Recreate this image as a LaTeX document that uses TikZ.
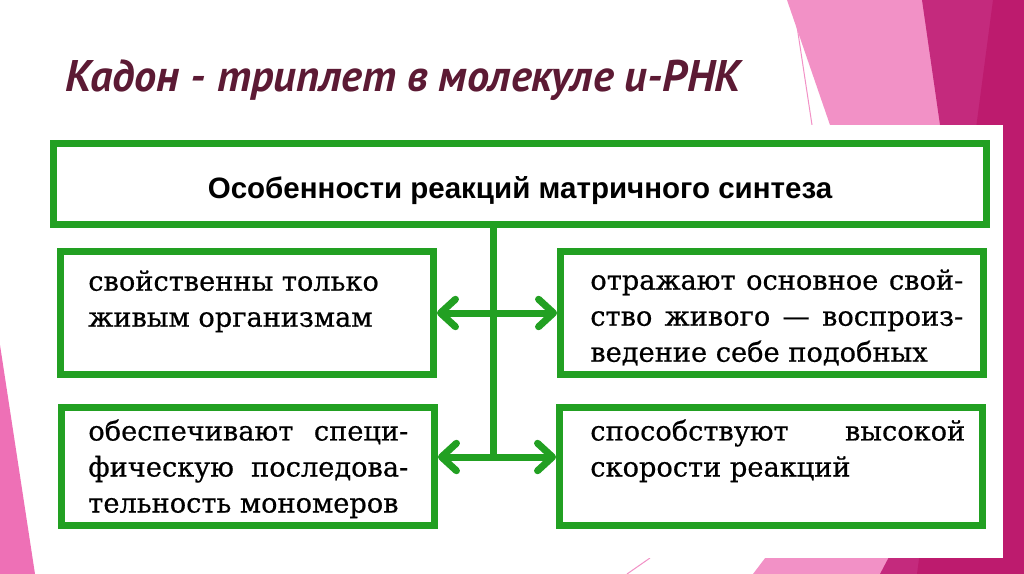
\documentclass[tikz,border=0pt]{standalone}
\usepackage{fontspec}
\setmainfont{DejaVu Serif}
\newfontfamily\scanfont{DejaVu Serif}[FakeBold=0.6]
\newfontfamily\headfont{Liberation Sans}
\newfontfamily\slidefont{PT Sans}
\usetikzlibrary{arrows.meta}

\definecolor{boxgreen}{RGB}{34,160,34}
\definecolor{slidetitle}{RGB}{92,26,52}
\definecolor{pinklight}{RGB}{242,145,198}
\definecolor{pinkside}{RGB}{238,112,182}
\definecolor{magentamid}{RGB}{196,42,125}
\definecolor{magentadark}{RGB}{189,27,110}
\newcommand{\spreadline}[2]{\makebox[#1][s]{#2}}

\begin{document}
\begin{tikzpicture}[x=0.02cm,y=-0.02cm,
  greenbox/.style={draw=boxgreen,line width=0.14cm,fill=white,inner sep=0pt},
  boxtext/.style={font=\scanfont\fontsize{15.5}{20.5}\selectfont,align=left,inner sep=0pt,anchor=north west},
  link/.style={draw=boxgreen,line width=0.14cm,line cap=round},
  barb/.style={-{Straight Barb[length=0.3cm,width=0.55cm,round]}}]
  \useasboundingbox (0,0) rectangle (1024,574);
  \fill[white] (0,0) rectangle (1024,574);
  % slide decoration
  \fill[pinklight] (787,0) -- (1024,0) -- (1024,574) -- (753,574) -- (775,545) -- (830,125) -- cycle;
  \fill[magentamid] (922,0) -- (1024,0) -- (1024,574) -- (880,574) -- (890,555) -- (940,125) -- cycle;
  \fill[magentadark] (993,0) -- (1024,0) -- (1024,574) -- (917,574) -- cycle;
  \fill[pinkside] (0,345) -- (35,574) -- (0,574) -- cycle;
  \draw[pinklight,line width=0.02cm] (793,0) -- (812,125);
  \draw[pinklight,line width=0.02cm] (650,558) -- (627,574);
  \fill[white] (35,125) rectangle (1003,558);

  \node[slidetitle,anchor=base west,inner sep=0pt,font=\slidefont\bfseries\itshape\fontsize{25.2}{29}\selectfont] (title) at (65,92) {Кадон - триплет в молекуле и-РНК};

  % boxes
  \node[greenbox,minimum width=18.66cm,minimum height=1.62cm,text height=18pt,text depth=1.2pt,font=\headfont\bfseries\fontsize{16.8}{19}\selectfont] (top) at (520,184) {Особенности реакций матричного синтеза};
  \node[greenbox,minimum width=7.46cm,minimum height=2.46cm] (b1) at (247,313) {};
  \node[greenbox,minimum width=7.46cm,minimum height=2.38cm] (b2) at (248,466.5) {};
  \node[greenbox,minimum width=8.46cm,minimum height=2.46cm] (b3) at (772,313) {};
  \node[greenbox,minimum width=8.46cm,minimum height=2.38cm] (b4) at (771,466.5) {};

  \node[boxtext] (t1) at (88,270) {свойственны только\\живым организмам};
  \node[boxtext] (t2) at (88,419) {\spreadline{6.4cm}{обеспечивают специ-}\\\spreadline{6.4cm}{фическую последова-}\\тельность мономеров};
  \node[boxtext] (t3) at (590,269) {\spreadline{7.46cm}{отражают основное свой-}\\\spreadline{7.46cm}{ство живого — воспроиз-}\\ведение себе подобных};
  \node[boxtext] (t4) at (590,419) {\spreadline{7.5cm}{способствуют высокой}\\скорости реакций};

  % connectors
  \coordinate (j1) at (493,313);
  \coordinate (j2) at (493,457);
  \draw[link] (top.south -| j1) -- (j2);
  \draw[link,barb] (j1) -- (b1.east);
  \draw[link,barb] (j1) -- (b3.west);
  \draw[link,barb] (j2) -- (j2 -| b2.east);
  \draw[link,barb] (j2) -- (j2 -| b4.west);
\end{tikzpicture}
\end{document}
